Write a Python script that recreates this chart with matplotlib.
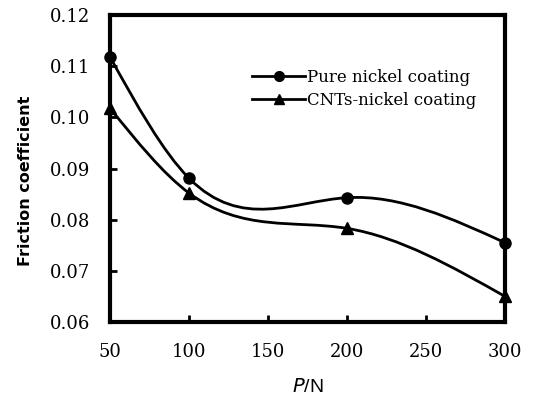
import numpy as np
import matplotlib.pyplot as plt
from matplotlib.path import Path
from matplotlib.patches import PathPatch

load = [50, 100, 200, 300]
pure_nickel = [0.1118, 0.0881, 0.0843, 0.0755]
cnt_nickel = [0.1018, 0.0852, 0.0783, 0.065]
labels = ["Pure nickel coating", "CNTs-nickel coating"]

xlim = (50, 300)
ylim = (0.06, 0.12)


def smooth_path(xs, ys):
    # natural cubic spline drawn as bezier segments (each segment is exact)
    x = np.asarray(xs, float)
    y = np.asarray(ys, float)
    n = len(x)
    h = np.diff(x)
    sl = np.diff(y) / h
    A = np.zeros((n, n))
    b = np.zeros(n)
    A[0, 0] = A[-1, -1] = 1
    for i in range(1, n - 1):
        A[i, i - 1] = h[i - 1]
        A[i, i] = 2 * (h[i - 1] + h[i])
        A[i, i + 1] = h[i]
        b[i] = 6 * (sl[i] - sl[i - 1])
    M = np.linalg.solve(A, b)
    verts = [(x[0], y[0])]
    codes = [Path.MOVETO]
    for i in range(n - 1):
        d0 = sl[i] - h[i] * (2 * M[i] + M[i + 1]) / 6
        d1 = sl[i] + h[i] * (M[i] + 2 * M[i + 1]) / 6
        verts += [(x[i] + h[i] / 3, y[i] + h[i] / 3 * d0),
                  (x[i + 1] - h[i] / 3, y[i + 1] - h[i] / 3 * d1),
                  (x[i + 1], y[i + 1])]
        codes += [Path.CURVE4] * 3
    return Path(verts, codes)


fig = plt.figure(figsize=(5.36, 4.04), dpi=100)
ax = fig.add_axes([110 / 536, 1 - 322 / 404, 395 / 536, 307 / 404])
ax.set_xlim(*xlim)
ax.set_ylim(*ylim)

for ys, mk, lab in [(pure_nickel, "o", labels[0]), (cnt_nickel, "^", labels[1])]:
    ax.add_patch(PathPatch(smooth_path(load, ys), fill=False, lw=2, color="black",
                           clip_on=False))
    ax.plot(load, ys, ls="none", marker=mk, ms=8, color="black", clip_on=False)
    ax.plot([], [], color="black", lw=2, marker=mk, ms=7, label=lab)

for s in ax.spines.values():
    s.set_linewidth(3)

serif = "DejaVu Serif"
ax.set_xticks([50, 100, 150, 200, 250, 300])
ax.set_yticks([0.06, 0.07, 0.08, 0.09, 0.10, 0.11, 0.12])
ax.set_yticklabels(["0.06", "0.07", "0.08", "0.09", "0.10", "0.11", "0.12"])
ax.tick_params(direction="in", length=5, width=2, labelsize=13)
ax.tick_params(axis="x", pad=15)
ax.tick_params(axis="y", pad=14)
for t in ax.get_xticklabels() + ax.get_yticklabels():
    t.set_fontfamily(serif)

ax.set_ylabel("Friction coefficient", fontsize=11.5, fontweight="bold",
              fontfamily="DejaVu Sans")
ax.yaxis.set_label_coords(-0.195, 0.46)
ax.set_xlabel("$\\it{P}$/N", fontsize=14, fontfamily="Liberation Sans", labelpad=12)

ax.legend(loc="center left", bbox_to_anchor=(142 / 395, 1 - 74 / 307), frameon=False,
          prop={"family": serif, "size": 12}, handlelength=3.2, handletextpad=0.1,
          labelspacing=0.35, borderaxespad=0, borderpad=0)

fig.savefig("out.png", dpi=100)
